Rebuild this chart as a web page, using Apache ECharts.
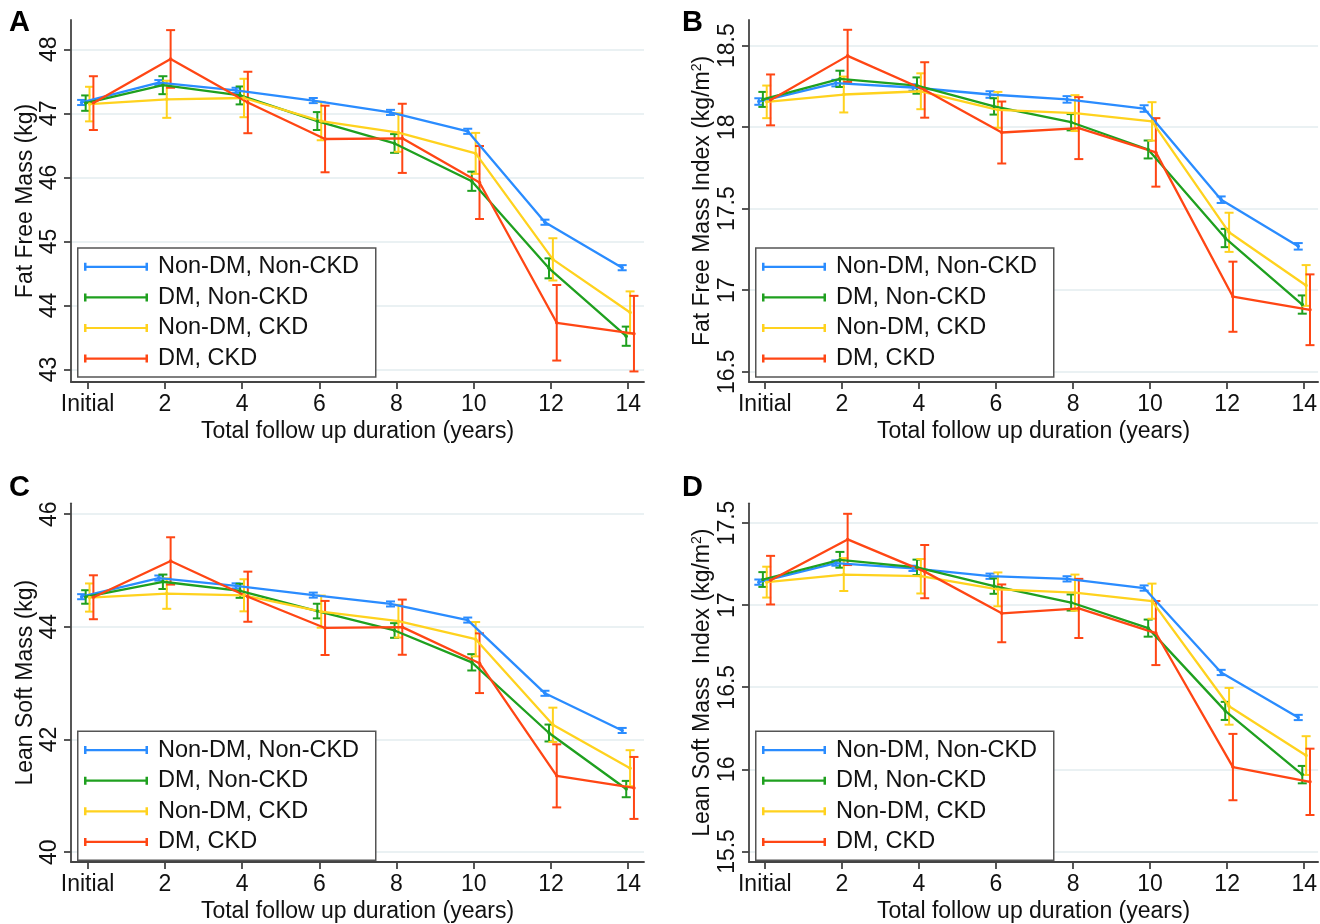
<!DOCTYPE html>
<html>
<head>
<meta charset="utf-8">
<script src="https://cdn.jsdelivr.net/npm/echarts@6/dist/echarts.min.js"></script>
<style>
  html, body { margin: 0; padding: 0; background: #ffffff; }
  #chart { width: 1320px; height: 924px; }
</style>
</head>
<body>
<div id="chart"></div>
<script>
// Follow-up time points (years) and their tick labels
const years = [0, 2, 4, 6, 8, 10, 12, 14];
const xTickLabels = ['Initial', '2', '4', '6', '8', '10', '12', '14'];
const groupNames = ['Non-DM, Non-CKD', 'DM, Non-CKD', 'Non-DM, CKD', 'DM, CKD'];

// A: Fat free mass (kg) – means and 95% CI half-widths
const ffmNonDmNonCkd = [47.17, 47.48, 47.36, 47.20, 47.015, 46.72, 45.30, 44.59];
const ffmNonDmNonCkdCi = [0.04, 0.04, 0.04, 0.04, 0.04, 0.04, 0.04, 0.04];
const ffmDmNonCkd = [47.16, 47.44, 47.28, 46.88, 46.53, 45.94, 44.58, 43.52];
const ffmDmNonCkdCi = [0.12, 0.14, 0.14, 0.14, 0.146, 0.15, 0.156, 0.15];
const ffmNonDmCkd = [47.145, 47.22, 47.24, 46.88, 46.70, 46.375, 44.72, 43.89];
const ffmNonDmCkdCi = [0.27, 0.29, 0.30, 0.30, 0.30, 0.32, 0.33, 0.33];
const ffmDmCkd = [47.16, 47.85, 47.17, 46.60, 46.61, 45.92, 43.73, 43.56];
const ffmDmCkdCi = [0.42, 0.45, 0.48, 0.52, 0.54, 0.57, 0.59, 0.59];
const ffmTicks = [43, 44, 45, 46, 47, 48];

// B: Fat free mass index (kg/m2)
const ffmiNonDmNonCkd = [18.157, 18.27, 18.243, 18.20, 18.17, 18.114, 17.555, 17.269];
const ffmiNonDmNonCkdCi = [0.02, 0.02, 0.02, 0.02, 0.02, 0.02, 0.02, 0.02];
const ffmiDmNonCkd = [18.17, 18.296, 18.255, 18.127, 18.03, 17.863, 17.32, 16.912];
const ffmiDmNonCkdCi = [0.046, 0.05, 0.05, 0.05, 0.05, 0.055, 0.056, 0.056];
const ffmiNonDmCkd = [18.155, 18.20, 18.22, 18.106, 18.086, 18.035, 17.355, 17.029];
const ffmiNonDmCkdCi = [0.10, 0.11, 0.11, 0.11, 0.11, 0.118, 0.12, 0.125];
const ffmiDmCkd = [18.167, 18.437, 18.228, 17.967, 17.994, 17.845, 16.96, 16.88];
const ffmiDmCkdCi = [0.156, 0.16, 0.17, 0.19, 0.19, 0.21, 0.215, 0.217];
const ffmiTicks = [16.5, 17, 17.5, 18, 18.5];

// C: Lean soft mass (kg)
const lsmNonDmNonCkd = [44.535, 44.866, 44.727, 44.563, 44.406, 44.12, 42.82, 42.16];
const lsmNonDmNonCkdCi = [0.045, 0.045, 0.045, 0.045, 0.045, 0.045, 0.045, 0.045];
const lsmDmNonCkd = [44.53, 44.80, 44.64, 44.28, 43.935, 43.37, 42.115, 41.12];
const lsmDmNonCkdCi = [0.12, 0.128, 0.125, 0.13, 0.13, 0.145, 0.15, 0.145];
const lsmNonDmCkd = [44.52, 44.59, 44.56, 44.27, 44.10, 43.78, 42.26, 41.49];
const lsmNonDmCkdCi = [0.25, 0.27, 0.285, 0.285, 0.29, 0.305, 0.305, 0.32];
const lsmDmCkd = [44.525, 45.17, 44.535, 43.98, 43.994, 43.354, 41.354, 41.14];
const lsmDmCkdCi = [0.39, 0.42, 0.445, 0.48, 0.49, 0.53, 0.56, 0.55];
const lsmTicks = [40, 42, 44, 46];

// D: Lean soft mass index (kg/m2)
const lsmiNonDmNonCkd = [17.14, 17.256, 17.224, 17.176, 17.16, 17.104, 16.59, 16.316];
const lsmiNonDmNonCkdCi = [0.016, 0.016, 0.016, 0.016, 0.016, 0.016, 0.016, 0.016];
const lsmiDmNonCkd = [17.156, 17.276, 17.23, 17.116, 17.016, 16.86, 16.356, 15.968];
const lsmiDmNonCkdCi = [0.045, 0.048, 0.047, 0.047, 0.049, 0.052, 0.055, 0.053];
const lsmiNonDmCkd = [17.14, 17.186, 17.176, 17.096, 17.076, 17.024, 16.384, 16.084];
const lsmiNonDmCkdCi = [0.094, 0.10, 0.105, 0.103, 0.11, 0.107, 0.112, 0.118];
const lsmiDmCkd = [17.152, 17.40, 17.204, 16.95, 16.98, 16.83, 16.014, 15.924];
const lsmiDmCkdCi = [0.148, 0.156, 0.162, 0.176, 0.18, 0.195, 0.202, 0.202];
const lsmiTicks = [15.5, 16, 16.5, 17, 17.5];

// ---- drawing ----
const FONT = '"Liberation Sans", Arial, Helvetica, sans-serif';
const TEXT = '#111111';
const AXIS = '#444444';
const GRIDLINE = '#e3ecef';
const colors = ['#2a8cff', '#1fa01f', '#ffd21e', '#ff4614'];
const dodge = [-0.155, -0.05, 0.05, 0.15];

const panels = [
  { letter: 'A', yName: 'Fat Free Mass (kg)', ticks: ffmTicks,
    means: [ffmNonDmNonCkd, ffmDmNonCkd, ffmNonDmCkd, ffmDmCkd],
    cis: [ffmNonDmNonCkdCi, ffmDmNonCkdCi, ffmNonDmCkdCi, ffmDmCkdCi],
    box: { left: 71, top: 20, width: 573, height: 362 }, x: [-0.43, 14.41], y: [42.805, 48.458] },
  { letter: 'B', yName: 'Fat Free Mass Index (kg/m{sup|2})', ticks: ffmiTicks,
    means: [ffmiNonDmNonCkd, ffmiDmNonCkd, ffmiNonDmCkd, ffmiDmCkd],
    cis: [ffmiNonDmNonCkdCi, ffmiDmNonCkdCi, ffmiNonDmCkdCi, ffmiDmCkdCi],
    box: { left: 749, top: 20, width: 571, height: 362 }, x: [-0.41, 14.36], y: [16.437, 18.657] },
  { letter: 'C', yName: 'Lean Soft Mass (kg)', ticks: lsmTicks,
    means: [lsmNonDmNonCkd, lsmDmNonCkd, lsmNonDmCkd, lsmDmCkd],
    cis: [lsmNonDmNonCkdCi, lsmDmNonCkdCi, lsmNonDmCkdCi, lsmDmCkdCi],
    box: { left: 71, top: 503.3, width: 573, height: 363.4 }, x: [-0.43, 14.41], y: [39.825, 46.193] },
  { letter: 'D', yName: 'Lean Soft Mass  Index (kg/m{sup|2})', ticks: lsmiTicks,
    means: [lsmiNonDmNonCkd, lsmiDmNonCkd, lsmiNonDmCkd, lsmiDmCkd],
    cis: [lsmiNonDmNonCkdCi, lsmiDmNonCkdCi, lsmiNonDmCkdCi, lsmiDmCkdCi],
    box: { left: 749, top: 503.3, width: 571, height: 363.4 }, x: [-0.41, 14.36], y: [15.436, 17.62] }
];

const grid = [], xAxis = [], yAxis = [], series = [], legend = [], graphic = [];

// Legend key: a horizontal capped line
const capIcon = 'path://M0,0h2.5v8h-2.5z M0,2.9h64v2.2h-64z M61.5,0h2.5v8h-2.5z';

function errorBarRenderer(color) {
  return function (params, api) {
    const x = api.value(0);
    const lo = api.coord([x, api.value(1)]);
    const hi = api.coord([x, api.value(2)]);
    const hw = 4.5;
    const style = { stroke: color, lineWidth: 2, fill: null };
    return {
      type: 'group',
      children: [
        { type: 'line', shape: { x1: lo[0], y1: lo[1], x2: hi[0], y2: hi[1] }, style },
        { type: 'line', shape: { x1: lo[0] - hw, y1: lo[1], x2: lo[0] + hw, y2: lo[1] }, style },
        { type: 'line', shape: { x1: hi[0] - hw, y1: hi[1], x2: hi[0] + hw, y2: hi[1] }, style }
      ]
    };
  };
}

panels.forEach((p, i) => {
  grid.push(Object.assign({ containLabel: false }, p.box));
  xAxis.push({
    type: 'value', gridIndex: i, min: p.x[0], max: p.x[1],
    name: 'Total follow up duration (years)', nameLocation: 'middle', nameGap: 38,
    nameTextStyle: { fontFamily: FONT, fontSize: 23, color: TEXT },
    axisLine: { show: true, onZero: false, lineStyle: { color: AXIS, width: 1.8 } },
    axisTick: { show: true, length: 7, customValues: years, lineStyle: { color: AXIS, width: 1.8 } },
    axisLabel: {
      customValues: years, margin: 11, fontFamily: FONT, fontSize: 23, color: TEXT,
      formatter: v => xTickLabels[years.indexOf(v)]
    },
    splitLine: { show: false }
  });
  yAxis.push({
    type: 'value', gridIndex: i, min: p.y[0], max: p.y[1],
    name: p.yName, nameLocation: 'middle', nameGap: 34, nameRotate: 90,
    nameTextStyle: {
      fontFamily: FONT, fontSize: 23, color: TEXT,
      rich: { sup: { fontFamily: FONT, fontSize: 14, color: TEXT, padding: [0, 0, 11, 0] } }
    },
    axisLine: { show: true, onZero: false, lineStyle: { color: AXIS, width: 1.8 } },
    axisTick: { show: true, length: 7, customValues: p.ticks, lineStyle: { color: AXIS, width: 1.8 } },
    axisLabel: { customValues: p.ticks, rotate: 90, margin: 10, fontFamily: FONT, fontSize: 23, color: TEXT },
    splitLine: { show: true, lineStyle: { color: GRIDLINE, width: 1.6 } }
  });

  // confidence intervals first, then the mean trajectories on top
  groupNames.forEach((name, s) => {
    series.push({
      type: 'custom', name, xAxisIndex: i, yAxisIndex: i, z: 2, color: colors[s],
      renderItem: errorBarRenderer(colors[s]),
      encode: { x: 0, y: [1, 2] },
      data: years.map((t, k) => [t + dodge[s], p.means[s][k] - p.cis[s][k], p.means[s][k] + p.cis[s][k]])
    });
  });
  groupNames.forEach((name, s) => {
    series.push({
      type: 'line', name, xAxisIndex: i, yAxisIndex: i, z: 3, color: colors[s],
      symbol: 'circle', symbolSize: 3.5, showSymbol: true,
      lineStyle: { color: colors[s], width: 2.3 },
      itemStyle: { color: colors[s] },
      data: years.map((t, k) => [t + dodge[s], p.means[s][k]])
    });
  });

  const bx = p.box.left + 6, by = p.box.top + 227.3;
  graphic.push({
    type: 'rect', left: bx, top: by, z: 10,
    shape: { width: 298, height: 129 },
    style: { fill: '#ffffff', stroke: '#555555', lineWidth: 1.5 }
  });
  legend.push({
    orient: 'vertical', left: bx + 7, top: by + 7.5, padding: 0, z: 20,
    itemWidth: 64, itemHeight: 8, itemGap: 6.6, selectedMode: false,
    textStyle: { fontFamily: FONT, fontSize: 23.5, lineHeight: 23, color: TEXT, padding: [0, 0, 0, 5] },
    data: groupNames.map((n, s) => ({ name: n, icon: capIcon, itemStyle: { color: colors[s] } }))
  });
  graphic.push({
    type: 'text', z: 10,
    left: (i % 2 === 0 ? 9 : 682), top: (i < 2 ? 8 : 473),
    style: { text: p.letter, fontFamily: FONT, fontSize: 29, fontWeight: 'bold', fill: '#000000' }
  });
});

const chart = echarts.init(document.getElementById('chart'), null, { renderer: 'canvas' });
chart.setOption({
  backgroundColor: '#ffffff',
  animation: false,
  textStyle: { fontFamily: FONT },
  grid, xAxis, yAxis, series, legend, graphic
});
</script>
</body>
</html>
